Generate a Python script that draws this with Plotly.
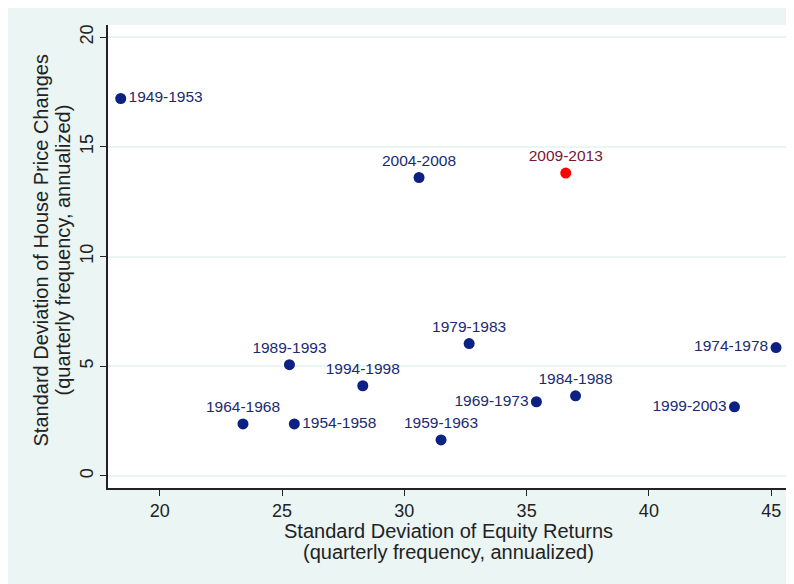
import plotly.graph_objects as go

periods = ["1949-1953", "1954-1958", "1959-1963", "1964-1968", "1969-1973",
           "1974-1978", "1979-1983", "1984-1988", "1989-1993", "1994-1998",
           "1999-2003", "2004-2008", "2009-2013"]
equity_sd = [18.4, 25.5, 31.5, 23.4, 35.4, 45.2, 32.65, 37.0, 25.3, 28.3, 43.5, 30.6, 36.6]
house_sd = [17.2, 2.37, 1.64, 2.37, 3.38, 5.85, 6.03, 3.65, 5.07, 4.11, 3.15, 13.6, 13.8]
label_pos = ["middle right", "middle right", "top center", "top center", "middle left",
             "middle left", "top center", "top center", "top center", "top center",
             "middle left", "top center", "top center"]

x_ticks = [20, 25, 30, 35, 40, 45]
y_ticks = [0, 5, 10, 15, 20]

x_title = ["Standard Deviation of Equity Returns", "(quarterly frequency, annualized)"]
y_title = ["Standard Deviation of House Price Changes", "(quarterly frequency, annualized)"]

NAVY = "#0d2185"
LABEL_NAVY = "#1a2a72"
RED = "#ff0000"
MAROON = "#7a1535"
MINT = "#eaf5f4"
FONT = "Liberation Sans, Arial, sans-serif"
TXT = "#222222"

hist_idx = [i for i, p in enumerate(periods) if p != "2009-2013"]
last_idx = [i for i, p in enumerate(periods) if p == "2009-2013"]

fig = go.Figure()
fig.add_trace(go.Scatter(
    x=[equity_sd[i] for i in hist_idx],
    y=[house_sd[i] for i in hist_idx],
    text=[periods[i] for i in hist_idx],
    textposition=[label_pos[i] for i in hist_idx],
    mode="markers+text",
    marker=dict(color=NAVY, size=11),
    textfont=dict(color=LABEL_NAVY, size=15.5, family=FONT),
    cliponaxis=False,
    showlegend=False,
))
fig.add_trace(go.Scatter(
    x=[equity_sd[i] for i in last_idx],
    y=[house_sd[i] for i in last_idx],
    text=[periods[i] for i in last_idx],
    textposition=[label_pos[i] for i in last_idx],
    mode="markers+text",
    marker=dict(color=RED, size=11),
    textfont=dict(color=MAROON, size=15.5, family=FONT),
    cliponaxis=False,
    showlegend=False,
))

# axis titles, one annotation per line for exact line spacing
for line, shift in zip(x_title, [-43, -64]):
    fig.add_annotation(text=line, xref="paper", yref="paper", x=0.5, y=0,
                       xanchor="center", yanchor="middle", yshift=shift,
                       showarrow=False, font=dict(size=20, color=TXT, family=FONT))
for line, shift in zip(y_title, [-68, -46]):
    fig.add_annotation(text=line, xref="paper", yref="paper", x=0, y=0.5,
                       xanchor="center", yanchor="middle", xshift=shift, yshift=6,
                       textangle=-90, showarrow=False,
                       font=dict(size=20, color=TXT, family=FONT))

fig.update_layout(
    width=786, height=576,
    margin=dict(l=100, r=5, t=17, b=96),
    paper_bgcolor=MINT,
    plot_bgcolor="white",
    font=dict(family=FONT, color=TXT, size=18),
    xaxis=dict(
        range=[17.88, 45.73],
        tickvals=x_ticks,
        ticks="outside", ticklen=6, tickcolor=TXT,
        showline=True, linecolor=TXT, linewidth=1.5,
        showgrid=False, zeroline=False,
        tickfont=dict(size=18),
    ),
    yaxis=dict(
        range=[-0.55, 20.55],
        tickvals=y_ticks,
        tickangle=-90,
        ticks="outside", ticklen=6, tickcolor=TXT,
        showline=True, linecolor=TXT, linewidth=1.5,
        showgrid=True, gridcolor=MINT, gridwidth=2,
        zeroline=False,
        tickfont=dict(size=18),
    ),
)

fig.write_html("out.html")
